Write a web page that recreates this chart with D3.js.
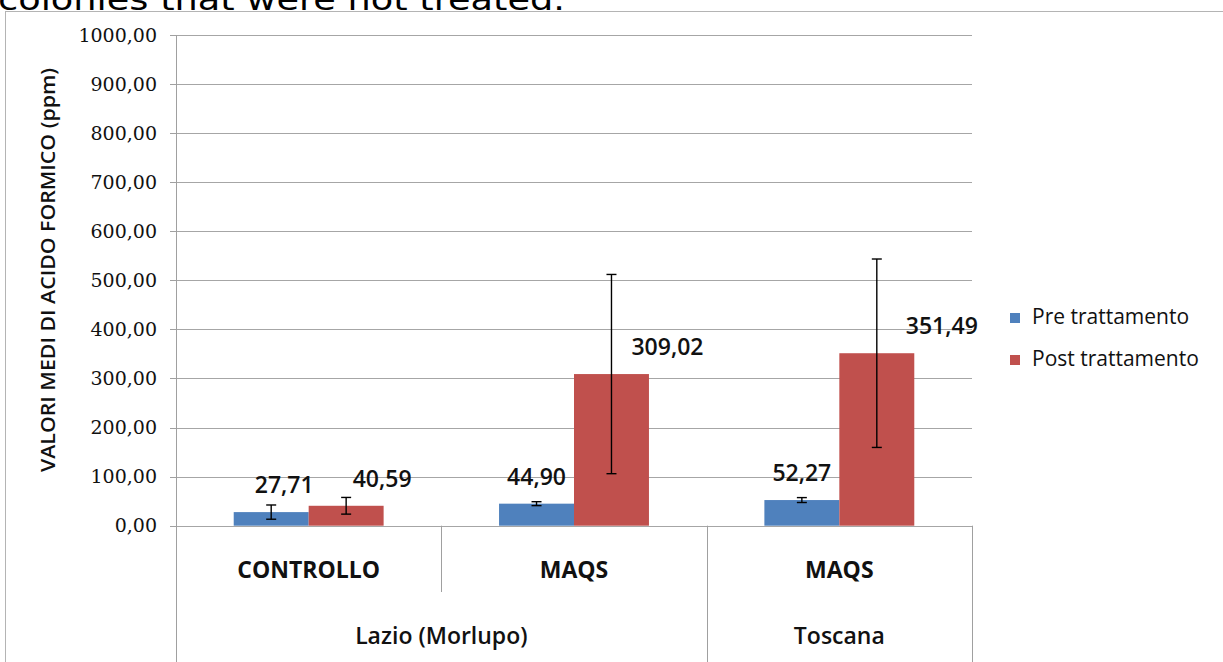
<!DOCTYPE html>
<html lang="it">
<head>
<meta charset="utf-8">
<style>
  body { margin: 0; background: #fff; }
  .grid line { stroke: #a6a6a6; stroke-width: 1.3; shape-rendering: crispEdges; }
  .y.axis text { font: 19px "DejaVu Serif", serif; fill: #111; }
  .y.axis line, .y.axis path { stroke: #a0a0a0; shape-rendering: crispEdges; }
</style>
<script src="https://d3js.org/d3.v7.min.js" charset="utf-8"></script>
</head>
<body>
<script>
  // data
  let categories = ["CONTROLLO", "MAQS", "MAQS"];
  let regions = ["Lazio (Morlupo)", "Toscana"];
  let regionSpans = [2, 1];
  let series = ["Pre trattamento", "Post trattamento"];
  let preValues = [27.71, 44.90, 52.27];
  let postValues = [40.59, 309.02, 351.49];
  let preErrors = [14.5, 4, 5];
  let postErrors = [17, 203, 192];
  let yTicks = [0, 100, 200, 300, 400, 500, 600, 700, 800, 900, 1000];
  let colors = ["#4f81bd", "#c0504d"];

  let width = 1223, height = 662;
  let plotLeft = 176, plotRight = 972, plotTop = 35, plotBottom = 525.7;

  let svg = d3.select("body").append("svg")
    .attr("width", width)
    .attr("height", height);

  // caption from the page above, mostly cut off
  svg.append("text")
    .attr("x", -2)
    .attr("y", 10)
    .attr("textLength", 567)
    .attr("lengthAdjust", "spacingAndGlyphs")
    .style("font", "31px 'DejaVu Sans', sans-serif")
    .style("fill", "#000")
    .text("colonies that were not treated.");

  // chart frame
  svg.append("rect")
    .attr("x", 5.5).attr("y", 11.5)
    .attr("width", 1400).attr("height", 800)
    .style("fill", "none")
    .style("stroke", "#b4b4b4");

  let itFormat = d3.formatLocale({decimal: ",", thousands: "", grouping: [3], currency: ["", "€"]}).format(".2f");

  let x0 = d3.scaleBand()
    .domain(d3.range(categories.length))
    .range([plotLeft, plotRight])
    .padding(0);

  let x1 = d3.scaleBand()
    .domain(series)
    .range([0, x0.bandwidth()])
    .paddingInner(0)
    .paddingOuter(0.77);

  let y = d3.scaleLinear()
    .domain([0, 1000])
    .range([plotBottom, plotTop]);

  // gridlines
  svg.append("g").attr("class", "grid")
    .selectAll("line")
    .data(yTicks)
    .join("line")
    .attr("x1", plotLeft).attr("x2", plotRight)
    .attr("y1", d => Math.round(y(d)) + 0.5)
    .attr("y2", d => Math.round(y(d)) + 0.5);

  svg.append("g")
    .attr("class", "y axis")
    .attr("transform", "translate(" + plotLeft + ",0)")
    .call(d3.axisLeft(y).tickValues(yTicks).tickFormat(itFormat).tickSizeInner(6).tickSizeOuter(0).tickPadding(13))
    .call(g => g.select(".domain").remove());

  // vertical axis line down to the category rows
  svg.append("line")
    .attr("x1", plotLeft + 0.5).attr("x2", plotLeft + 0.5)
    .attr("y1", y(1000)).attr("y2", height)
    .style("stroke", "#a0a0a0");

  // category separators
  let innerSeps = d3.range(1, categories.length);
  let outerBounds = [0];
  regionSpans.reduce((acc, s) => { outerBounds.push(acc + s); return acc + s; }, 0);

  svg.append("g").selectAll("line")
    .data(innerSeps.filter(i => !outerBounds.includes(i)))
    .join("line")
    .attr("x1", i => Math.round(x0(i)) + 0.5)
    .attr("x2", i => Math.round(x0(i)) + 0.5)
    .attr("y1", plotBottom).attr("y2", 592)
    .style("stroke", "#a0a0a0");

  svg.append("g").selectAll("line")
    .data(outerBounds.slice(1))
    .join("line")
    .attr("x1", i => i >= categories.length ? plotRight + 0.5 : Math.round(x0(i)) + 0.5)
    .attr("x2", i => i >= categories.length ? plotRight + 0.5 : Math.round(x0(i)) + 0.5)
    .attr("y1", plotBottom).attr("y2", height)
    .style("stroke", "#a0a0a0");

  // bars
  let rows = categories.map((c, i) => ({
    i: i,
    vals: [
      {s: series[0], v: preValues[i], e: preErrors[i], c: colors[0]},
      {s: series[1], v: postValues[i], e: postErrors[i], c: colors[1]}
    ]
  }));

  let groups = svg.append("g").selectAll("g")
    .data(rows)
    .join("g")
    .attr("transform", d => "translate(" + x0(d.i) + ",0)");

  groups.selectAll("rect")
    .data(d => d.vals)
    .join("rect")
    .attr("x", d => x1(d.s))
    .attr("width", x1.bandwidth())
    .attr("y", d => y(d.v))
    .attr("height", d => y(0) - y(d.v))
    .style("fill", d => d.c);

  // error bars
  let eb = groups.selectAll("g.err")
    .data(d => d.vals)
    .join("g")
    .attr("class", "err")
    .style("stroke", "#000")
    .style("stroke-width", 1.4);
  eb.append("line")
    .attr("x1", d => x1(d.s) + x1.bandwidth() / 2)
    .attr("x2", d => x1(d.s) + x1.bandwidth() / 2)
    .attr("y1", d => y(d.v + d.e))
    .attr("y2", d => y(d.v - d.e));
  eb.selectAll("line.cap")
    .data(d => [d, {s: d.s, v: d.v, e: -d.e}])
    .join("line")
    .attr("class", "cap")
    .attr("x1", d => x1(d.s) + x1.bandwidth() / 2 - 5)
    .attr("x2", d => x1(d.s) + x1.bandwidth() / 2 + 5)
    .attr("y1", d => y(d.v + d.e))
    .attr("y2", d => y(d.v + d.e));

  // data labels (moved by hand in the original)
  let labelShift = [[13, 36], [0, 56], [0, 65]];
  groups.selectAll("text")
    .data(d => d.vals.map((v, k) => Object.assign({dx: labelShift[d.i][k]}, v)))
    .join("text")
    .attr("x", d => x1(d.s) + x1.bandwidth() / 2 + d.dx)
    .attr("y", d => y(d.v) - 19)
    .attr("text-anchor", "middle")
    .style("font", "600 23px 'Open Sans', sans-serif")
    .style("fill", "#111")
    .text(d => itFormat(d.v));

  // category labels
  svg.append("g").selectAll("text")
    .data(categories)
    .join("text")
    .attr("x", (d, i) => x0(i) + x0.bandwidth() / 2)
    .attr("y", 578)
    .attr("text-anchor", "middle")
    .style("font", "bold 23px 'Open Sans', sans-serif")
    .style("fill", "#111")
    .text(d => d);

  // region labels
  svg.append("g").selectAll("text")
    .data(regions)
    .join("text")
    .attr("x", (d, i) => {
      let a = outerBounds[i], b = outerBounds[i + 1];
      return (x0(a) + x0(b - 1) + x0.bandwidth()) / 2;
    })
    .attr("y", 644)
    .attr("text-anchor", "middle")
    .style("font", "600 23px 'Open Sans', sans-serif")
    .style("fill", "#111")
    .text(d => d);

  // y title
  svg.append("text")
    .attr("transform", "translate(55,270) rotate(-90)")
    .attr("text-anchor", "middle")
    .attr("textLength", 404)
    .attr("lengthAdjust", "spacingAndGlyphs")
    .style("font", "600 19px 'Open Sans', sans-serif")
    .style("fill", "#111")
    .text("VALORI MEDI DI ACIDO FORMICO (ppm)");

  // legend
  let legend = svg.append("g").selectAll("g")
    .data(series)
    .join("g")
    .attr("transform", (d, i) => "translate(1010," + (313 + i * 42) + ")");
  legend.append("rect")
    .attr("width", 10).attr("height", 10)
    .style("fill", (d, i) => colors[i]);
  legend.append("text")
    .attr("x", 22)
    .attr("y", 11)
    .style("font", "21px 'Open Sans', sans-serif")
    .style("fill", "#111")
    .text(d => d);
</script>
</body>
</html>
